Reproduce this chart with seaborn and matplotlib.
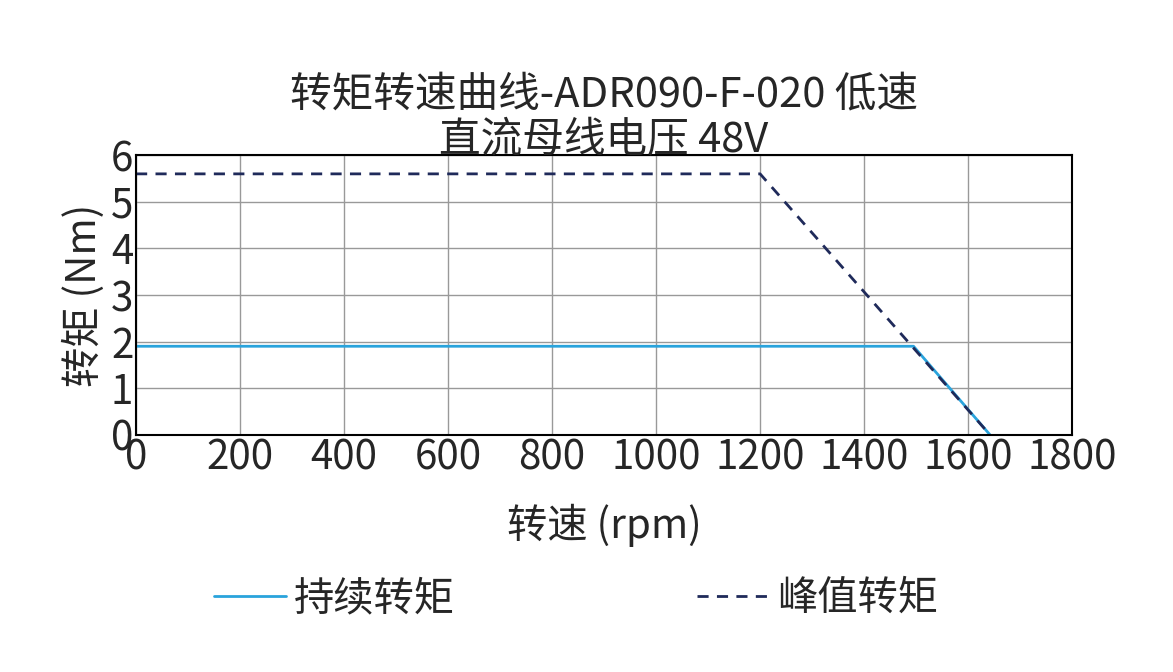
import numpy as np
import pandas as pd
import seaborn as sns
from matplotlib import pyplot as plt

# data
cont_speed = [0, 1495, 1642]
cont_torque = [1.9, 1.9, 0]
peak_speed = [0, 1200, 1642]
peak_torque = [5.6, 5.6, 0]
x_ticks = [0, 200, 400, 600, 800, 1000, 1200, 1400, 1600, 1800]
y_ticks = [0, 1, 2, 3, 4, 5, 6]

sns.set_style("white")
plt.rcParams["font.family"] = ["Noto Sans CJK SC", "DejaVu Sans"]

df = pd.concat([
    pd.DataFrame({"speed": cont_speed, "torque": cont_torque, "kind": "持续转矩"}),
    pd.DataFrame({"speed": peak_speed, "torque": peak_torque, "kind": "峰值转矩"}),
])

fig = plt.figure(figsize=(11.73, 6.72), dpi=100)
ax = fig.add_axes([0.116, 0.353, 0.798, 0.416])
sns.lineplot(
    data=df, x="speed", y="torque", hue="kind", style="kind",
    palette={"持续转矩": "#29a3dc", "峰值转矩": "#1f2a5a"},
    dashes={"持续转矩": "", "峰值转矩": (4, 3)},
    linewidth=2, sort=False, estimator=None, ax=ax,
)
ax.set_xlim(0, 1800)
ax.set_ylim(0, 6)
ax.set_xticks(x_ticks)
ax.set_yticks(y_ticks)
ax.grid(True, color="#999999", linewidth=1)
for s in ax.spines.values():
    s.set_color("black")
    s.set_linewidth(1.5)
ax.tick_params(labelsize=29, length=0, pad=2)
ax.set_xlabel("转速 (rpm)", fontsize=29, labelpad=18)
ax.set_ylabel("转矩 (Nm)", fontsize=29, labelpad=4)
ax.set_title("转矩转速曲线-ADR090-F-020 低速\n直流母线电压 48V", fontsize=30,
             linespacing=1.15, pad=2)
ax.legend(loc="upper center", bbox_to_anchor=(0.47, -0.44), ncol=2,
          frameon=False, fontsize=29, handlelength=1.8, handletextpad=0.2,
          columnspacing=6, borderpad=0)
fig.savefig("out.png", dpi=100)
